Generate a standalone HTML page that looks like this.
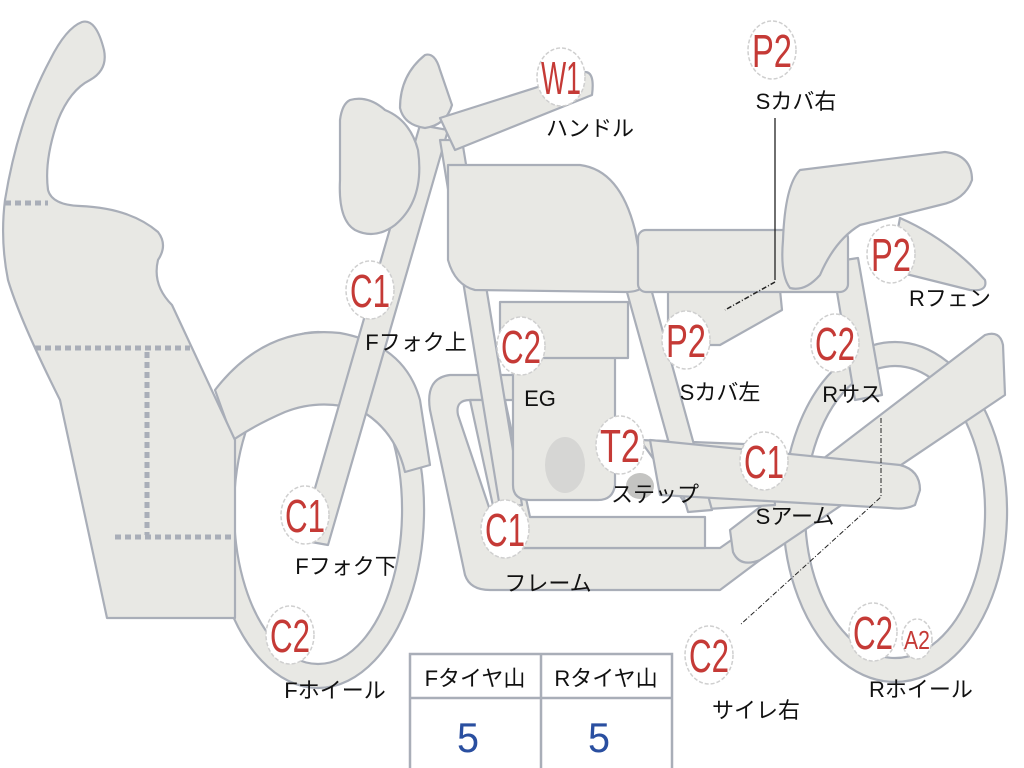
<!DOCTYPE html>
<html><head><meta charset="utf-8"><style>
html,body{margin:0;padding:0;background:#fff;}
svg{display:block}
.s{fill:#e8e8e4;stroke:#a9aeb8;stroke-width:2.2;stroke-linejoin:round}
.b{fill:#fff;stroke:#cfcfcf;stroke-width:1.5;stroke-dasharray:4 2}
.bt{fill:#c53a36;font-family:"Liberation Sans",sans-serif;font-size:46px;text-anchor:middle}
.lb{fill:#111;font-family:"Liberation Sans","Noto Sans CJK JP",sans-serif;font-size:22px;text-anchor:middle}
.dot{stroke:#a9aeb8;stroke-width:5;stroke-dasharray:6 4;fill:none}
</style></head><body>
<svg width="1024" height="768" viewBox="0 0 1024 768" xmlns="http://www.w3.org/2000/svg">
<!-- front wheel -->
<path class="s" fill-rule="evenodd" d="M318,332 a106,178 0 1,0 0.1,0 Z M318,356 a84,154 0 1,0 0.1,0 Z"/>
<!-- fender -->
<path class="s" d="M215,390 Q265,325 340,333 Q405,345 420,400 L430,465 L405,472 Q395,430 360,410 Q320,398 285,412 Q255,425 233,440 Z"/>
<!-- rear wheel -->
<path class="s" fill-rule="evenodd" d="M895,342 a112,170 0 1,0 0.1,0 Z M895,366 a90,146 0 1,0 0.1,0 Z"/>
<!-- front fairing -->
<path class="s" d="M82,22 Q96,18 104,50 Q108,70 90,80 Q70,90 58,120 Q44,160 48,190 Q52,205 80,206 Q130,208 158,232 Q168,245 158,260 Q152,285 172,305 L235,440 L235,618 L107,618 L60,400 Q20,320 8,280 Q0,240 5,200 Q18,120 50,60 Q66,28 82,22 Z"/>
<line class="dot" x1="5" y1="203" x2="48" y2="203"/>
<line class="dot" x1="35" y1="348" x2="190" y2="348"/>
<line class="dot" x1="147" y1="352" x2="147" y2="535"/>
<line class="dot" x1="115" y1="537" x2="235" y2="537"/>
<!-- frame loop -->
<path class="s" fill-rule="evenodd" d="M450,375 L520,375 L520,400 L470,400 Q455,400 458,415 L500,540 Q505,548 520,548 L720,548 L760,520 L780,545 L720,590 L490,590 Q470,590 465,575 L430,410 Q425,378 450,375 Z"/>
<path class="s" d="M470,400 L505,400 L530,517 L705,517 L705,548 L520,548 Q505,548 500,538 Z"/>
<!-- swing arm long -->
<path class="s" d="M730,530 L985,335 Q1000,330 1003,345 L1005,395 L760,560 Q740,568 733,552 Z"/>
<!-- front fork -->
<path class="s" d="M420,125 L448,130 L328,545 L300,540 Z"/>
<path class="s" d="M440,140 L462,140 L522,505 L500,508 Z"/>
<!-- headlight & pod -->
<path class="s" d="M350,100 Q368,95 385,110 Q410,120 418,150 Q425,200 395,225 Q375,240 355,230 Q338,220 340,180 L340,120 Q342,104 350,100 Z"/>
<path class="s" d="M425,55 Q435,52 440,70 L452,105 Q446,125 425,128 Q404,125 400,108 Q400,75 425,55 Z"/>
<!-- handlebar -->
<path class="s" d="M440,118 L585,72 Q595,72 592,95 L455,150 Z"/>
<!-- engine -->
<path class="s" d="M513,355 L615,355 L615,485 Q613,500 598,500 L530,500 Q513,500 513,485 Z"/>
<rect class="s" x="500" y="302" width="128" height="56"/>
<ellipse cx="565" cy="465" rx="20" ry="28" fill="#d6d6d4"/>
<!-- step area -->
<path class="s" d="M640,440 L770,445 L775,505 L690,510 Z"/>
<ellipse cx="640" cy="486" rx="14" ry="13" fill="#c4c4c2"/>
<ellipse cx="692" cy="480" rx="12" ry="14" fill="#c4c4c2"/>
<!-- rear frame downtube -->
<path class="s" d="M625,285 L650,285 L712,510 L688,512 Z"/>
<!-- S arm short -->
<path class="s" d="M650,440 L900,465 Q920,470 920,490 L915,505 Q905,510 890,508 L660,495 Z"/>
<!-- rear shock -->
<path class="s" d="M832,262 L858,258 L882,395 L855,400 Z"/>
<!-- tank -->
<path class="s" d="M448,165 L580,165 Q620,170 635,230 L645,285 Q640,292 625,292 L475,290 Q455,285 448,260 Z"/>
<!-- side cover -->
<path class="s" d="M668,290 L780,290 L782,310 L720,345 L668,345 Z"/>
<rect class="s" x="638" y="230" width="210" height="62" rx="8"/>
<!-- rear fender -->
<path class="s" d="M900,218 Q950,240 985,280 Q988,292 970,290 L890,270 Z"/>
<!-- seat -->
<path class="s" d="M800,170 L945,152 Q972,155 972,180 Q965,200 940,205 L860,225 Q835,240 820,275 Q805,292 790,288 Q780,275 783,240 Q785,185 800,170 Z"/>
<!-- leader lines -->
<path d="M775,118 L775,280" stroke="#222" stroke-width="1.3" fill="none"/>
<path d="M775,282 L725,310" stroke="#222" stroke-width="1.5" stroke-dasharray="5 2 1 2" fill="none"/>
<path d="M881,418 L881,497 L740,625" stroke="#222" stroke-width="1" stroke-dasharray="5 2 1 2" fill="none"/>
<!-- badges -->
<g>
<ellipse class="b" cx="561" cy="77" rx="24" ry="29"/><text class="bt" x="561" y="94" textLength="40" lengthAdjust="spacingAndGlyphs">W1</text>
<ellipse class="b" cx="772" cy="50" rx="24" ry="29"/><text class="bt" x="772" y="67" textLength="40" lengthAdjust="spacingAndGlyphs">P2</text>
<ellipse class="b" cx="370" cy="290" rx="24" ry="29"/><text class="bt" x="370" y="307" textLength="40" lengthAdjust="spacingAndGlyphs">C1</text>
<ellipse class="b" cx="521" cy="346" rx="24" ry="29"/><text class="bt" x="521" y="363" textLength="40" lengthAdjust="spacingAndGlyphs">C2</text>
<ellipse class="b" cx="686" cy="340" rx="24" ry="29"/><text class="bt" x="686" y="357" textLength="40" lengthAdjust="spacingAndGlyphs">P2</text>
<ellipse class="b" cx="835" cy="343" rx="24" ry="29"/><text class="bt" x="835" y="360" textLength="40" lengthAdjust="spacingAndGlyphs">C2</text>
<ellipse class="b" cx="891" cy="254" rx="24" ry="29"/><text class="bt" x="891" y="271" textLength="40" lengthAdjust="spacingAndGlyphs">P2</text>
<ellipse class="b" cx="620" cy="445" rx="24" ry="29"/><text class="bt" x="620" y="462" textLength="40" lengthAdjust="spacingAndGlyphs">T2</text>
<ellipse class="b" cx="764" cy="461" rx="24" ry="29"/><text class="bt" x="764" y="478" textLength="40" lengthAdjust="spacingAndGlyphs">C1</text>
<ellipse class="b" cx="305" cy="515" rx="24" ry="29"/><text class="bt" x="305" y="532" textLength="40" lengthAdjust="spacingAndGlyphs">C1</text>
<ellipse class="b" cx="505" cy="529" rx="24" ry="29"/><text class="bt" x="505" y="546" textLength="40" lengthAdjust="spacingAndGlyphs">C1</text>
<ellipse class="b" cx="290" cy="635" rx="24" ry="29"/><text class="bt" x="290" y="652" textLength="40" lengthAdjust="spacingAndGlyphs">C2</text>
<ellipse class="b" cx="709" cy="655" rx="24" ry="29"/><text class="bt" x="709" y="672" textLength="40" lengthAdjust="spacingAndGlyphs">C2</text>
<ellipse class="b" cx="873" cy="632" rx="24" ry="29"/><text class="bt" x="873" y="649" textLength="40" lengthAdjust="spacingAndGlyphs">C2</text>
<ellipse class="b" cx="917" cy="639" rx="15" ry="20"/><text class="bt" x="917" y="649" style="font-size:26px" textLength="26" lengthAdjust="spacingAndGlyphs">A2</text>
</g>
<!-- labels -->
<text class="lb" x="590" y="136">ハンドル</text>
<text class="lb" x="796" y="109">Sカバ右</text>
<text class="lb" x="416" y="350">Fフォク上</text>
<text class="lb" x="540" y="406">EG</text>
<text class="lb" x="720" y="400">Sカバ左</text>
<text class="lb" x="852" y="402">Rサス</text>
<text class="lb" x="950" y="306">Rフェン</text>
<text class="lb" x="655" y="502">ステップ</text>
<text class="lb" x="795" y="524">Sアーム</text>
<text class="lb" x="346" y="574">Fフォク下</text>
<text class="lb" x="548" y="591">フレーム</text>
<text class="lb" x="335" y="698">Fホイール</text>
<text class="lb" x="756" y="718">サイレ右</text>
<text class="lb" x="921" y="697">Rホイール</text>
<!-- table -->
<rect x="410" y="654" width="262" height="120" fill="#fff" stroke="#a9aeb8" stroke-width="2.5"/>
<line x1="410" y1="698" x2="672" y2="698" stroke="#a9aeb8" stroke-width="2.5"/>
<line x1="541" y1="654" x2="541" y2="768" stroke="#a9aeb8" stroke-width="2.5"/>
<text class="lb" x="475" y="686">Fタイヤ山</text>
<text class="lb" x="606" y="686">Rタイヤ山</text>
<text x="468" y="752" fill="#2a4fa0" font-family="Liberation Sans,sans-serif" font-size="42" text-anchor="middle" textLength="22" lengthAdjust="spacingAndGlyphs">5</text>
<text x="599" y="752" fill="#2a4fa0" font-family="Liberation Sans,sans-serif" font-size="42" text-anchor="middle" textLength="22" lengthAdjust="spacingAndGlyphs">5</text>
</svg>
</body></html>
